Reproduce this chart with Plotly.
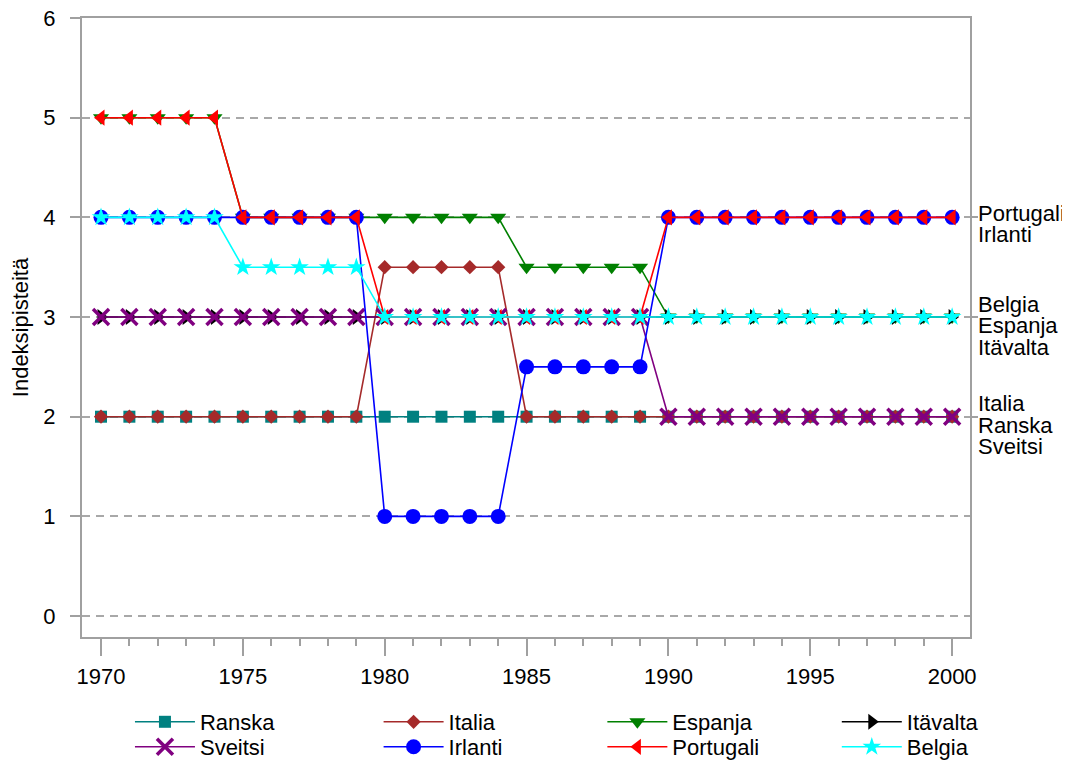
import plotly.graph_objects as go

years = list(range(1970, 2001))

ranska = [2] * 31
italia = [2] * 10 + [3.5] * 5 + [2] * 16
espanja = [5] * 5 + [4] * 10 + [3.5] * 5 + [3] * 11
itavalta = [3] * 31
sveitsi = [3] * 20 + [2] * 11
irlanti = [4] * 10 + [1] * 5 + [2.5] * 5 + [4] * 11
portugali = [5] * 5 + [4] * 5 + [3] * 10 + [4] * 11
belgia = [4] * 5 + [3.5] * 5 + [3] * 21

series_names = ["Ranska", "Italia", "Espanja", "Itävalta", "Sveitsi", "Irlanti", "Portugali", "Belgia"]
series_values = [ranska, italia, espanja, itavalta, sveitsi, irlanti, portugali, belgia]

# labels at the right edge: (value, label lines)
right_labels = [(4, ["Portugali", "Irlanti"]),
                (3, ["Belgia", "Espanja", "Itävalta"]),
                (2, ["Italia", "Ranska", "Sveitsi"])]

styles = {
    "Ranska": dict(color="#008080", symbol="square", size=12),
    "Italia": dict(color="#A52A2A", symbol="diamond", size=11),
    "Espanja": dict(color="#008000", symbol="triangle-down", size=14),
    "Itävalta": dict(color="#000000", symbol="triangle-right", size=14),
    "Sveitsi": dict(color="#800080", symbol="x-thin", size=16),
    "Irlanti": dict(color="#0000FF", symbol="circle", size=15),
    "Portugali": dict(color="#FF0000", symbol="triangle-left", size=14),
    "Belgia": dict(color="#00FFFF", symbol="star", size=14),
}

# legend grid placement (column, row) for each series
legend_cols = [0.054, 0.334, 0.586, 0.850]
legend_rows = [-0.1373, -0.1777]
legend_slot = {"Ranska": (0, 0), "Italia": (1, 0), "Espanja": (2, 0), "Itävalta": (3, 0),
               "Sveitsi": (0, 1), "Irlanti": (1, 1), "Portugali": (2, 1), "Belgia": (3, 1)}

FONT = "Liberation Sans, Arial, sans-serif"
FS = 22
fig = go.Figure()
legend_layouts = {}
for i, (name, vals) in enumerate(zip(series_names, series_values)):
    s = styles[name]
    marker = dict(symbol=s["symbol"], size=s["size"], color=s["color"])
    if s["symbol"] == "x-thin":
        marker["line"] = dict(color=s["color"], width=3.5)
    else:
        marker["line"] = dict(width=0)
    leg_id = "legend" if i == 0 else f"legend{i + 1}"
    c, r = legend_slot[name]
    legend_layouts[leg_id] = dict(
        orientation="v", x=legend_cols[c], y=legend_rows[r], xanchor="left", yanchor="middle",
        itemwidth=60, bgcolor="rgba(0,0,0,0)", font=dict(size=FS, family=FONT),
    )
    fig.add_trace(go.Scatter(
        x=years, y=vals, name=name, mode="lines+markers", legend=leg_id,
        line=dict(color=s["color"], width=1.6), marker=marker,
    ))

# invisible trace for right axis ticks
fig.add_trace(go.Scatter(x=[years[0]], y=[0], yaxis="y2", showlegend=False,
                         mode="markers", marker=dict(opacity=0), hoverinfo="skip"))

axcol = "#A0A0A0"
fig.update_layout(
    width=1062, height=790,
    margin=dict(l=74, r=100, t=10, b=161),
    plot_bgcolor="white", paper_bgcolor="white",
    font=dict(family=FONT, size=FS, color="black"),
    showlegend=True,
    xaxis=dict(range=[1969.33, 2000.63], tickvals=list(range(1970, 2001, 5)),
               ticks="outside", ticklen=17, tickwidth=1.5, tickcolor=axcol,
               ticklabelstandoff=2,
               showline=True, linecolor=axcol, linewidth=2, mirror=True,
               showgrid=False, zeroline=False, automargin=False,
               minor=dict(dtick=1, tick0=1970, ticks="outside", ticklen=7, tickwidth=1.5,
                          tickcolor=axcol, showgrid=False),
               tickfont=dict(size=FS)),
    yaxis=dict(range=[-0.21, 6.0], tickvals=[0, 1, 2, 3, 4, 5, 6],
               ticks="outside", ticklen=10, tickwidth=1.5, tickcolor=axcol,
               ticklabelstandoff=10, ticklabeloverflow="allow",
               showline=True, linecolor=axcol, linewidth=2, mirror=True,
               showgrid=True, gridcolor="#A8A8A8", gridwidth=1.5, griddash="8px,6px",
               zeroline=False, automargin=False,
               title=dict(text="Indeksipisteitä", font=dict(size=FS), standoff=12),
               tickfont=dict(size=FS)),
    yaxis2=dict(range=[-0.21, 6.0], overlaying="y", side="right", tickvals=[2, 3, 4],
                ticks="outside", ticklen=7, tickwidth=1.5, tickcolor=axcol,
                showticklabels=False, showgrid=False, zeroline=False, showline=False,
                automargin=False),
    **legend_layouts,
)

line_gap = 21.5
first_shift = {2: 4, 3: 13}
for val, names in right_labels:
    top = first_shift[len(names)]
    for i, nm in enumerate(names):
        fig.add_annotation(
            x=1.0, xref="paper", xshift=6, y=val, yref="y", yshift=top - i * line_gap,
            text=nm, showarrow=False, xanchor="left", yanchor="middle",
            align="left", font=dict(size=FS, family=FONT),
        )

fig.write_html("out.html")
